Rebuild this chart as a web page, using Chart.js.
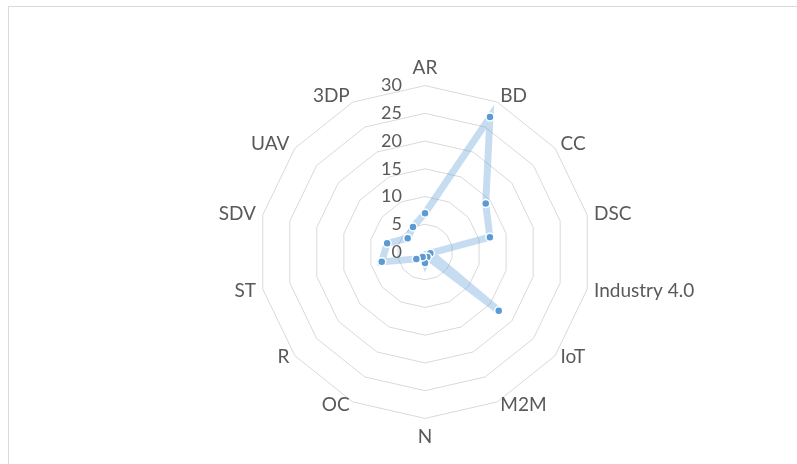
<!DOCTYPE html>
<html>
<head>
<meta charset="utf-8">
<script src="https://cdn.jsdelivr.net/npm/chart.js@4/dist/chart.umd.min.js"></script>
<style>
    body { margin: 0; background: #ffffff; }
    #wrap { position: relative; width: 797px; height: 464px; overflow: hidden; }
    #frame { position: absolute; left: 8px; top: 6px; width: 820px; height: 480px; border: 1px solid #d9d9d9; }
    #myChart { position: absolute; left: 0; top: 0; }
</style>
</head>
<body>
<div id="wrap">
    <div id="frame"></div>
    <canvas id="myChart" width="797" height="464"></canvas>
</div>
<script>
var categories = ['AR', 'BD', 'CC', 'DSC', 'Industry 4.0', 'IoT', 'M2M', 'N', 'OC', 'R', 'ST', 'SDV', 'UAV', '3DP'];
var counts = [7, 27, 14, 12, 1, 17, 1, 2, 1, 2, 8, 7, 4, 5];
var tickValues = [0, 5, 10, 15, 20, 25, 30];

var textColor = '#595959';
var fontFamily = 'Lato, "Liberation Sans", sans-serif';

// excel style tick labels, sitting left of the vertical axis
var leftTicks = {
    id: 'leftTicks',
    afterDraw: function (chart) {
        var scale = chart.scales.r;
        var ctx = chart.ctx;
        ctx.save();
        ctx.font = '18px ' + fontFamily;
        ctx.fillStyle = textColor;
        ctx.textAlign = 'right';
        ctx.textBaseline = 'middle';
        for (var i = 0; i < tickValues.length; i++) {
            var d = scale.getDistanceFromCenterForValue(tickValues[i]);
            ctx.fillText(String(tickValues[i]), scale.xCenter - 23, scale.yCenter - d);
        }
        ctx.restore();
    }
};

// category labels: vertically centred on the spoke end like excel does
var sideLabels = {
    id: 'sideLabels',
    afterDraw: function (chart) {
        var scale = chart.scales.r;
        var ctx = chart.ctx;
        ctx.save();
        ctx.font = '19px ' + fontFamily;
        ctx.fillStyle = textColor;
        ctx.textBaseline = 'middle';
        for (var i = 0; i < categories.length; i++) {
            var a = scale.getIndexAngle(i);
            var s = Math.sin(a), c = Math.cos(a);
            var p = scale.getPointPosition(i, scale.drawingArea + 7);
            var y = p.y;
            if (Math.abs(s) < 0.05) {
                ctx.textAlign = 'center';
                y = p.y - c * 11;
            } else {
                ctx.textAlign = s > 0 ? 'left' : 'right';
                if (c < -0.3) {
                    y = p.y - 3;
                }
            }
            ctx.fillText(categories[i], p.x, y);
        }
        ctx.restore();
    }
};

var ctx = document.getElementById('myChart').getContext('2d');
var myChart = new Chart(ctx, {
    type: 'radar',
    data: {
        labels: categories,
        datasets: [{
            label: 'Count',
            data: counts,
            borderColor: 'rgba(91, 155, 213, 0.35)',
            backgroundColor: 'rgba(0, 0, 0, 0)',
            borderWidth: 7,
            fill: false,
            pointRadius: 4,
            pointBorderWidth: 1.5,
            pointBackgroundColor: '#5b9bd5',
            pointBorderColor: '#ffffff'
        }]
    },
    options: {
        responsive: false,
        animation: false,
        layout: {
            padding: { top: 57, bottom: 16, left: 53, right: 0 }
        },
        plugins: {
            legend: { display: false },
            tooltip: { enabled: false }
        },
        scales: {
            r: {
                min: 0,
                max: 30,
                ticks: { stepSize: 5, display: false },
                angleLines: { display: false },
                grid: { color: '#d9d9d9', lineWidth: 1, circular: false },
                pointLabels: {
                    // kept for the layout fit, drawn by sideLabels
                    color: 'rgba(0, 0, 0, 0)',
                    padding: 7,
                    font: { size: 18, family: fontFamily }
                }
            }
        }
    },
    plugins: [leftTicks, sideLabels]
});
</script>
</body>
</html>
